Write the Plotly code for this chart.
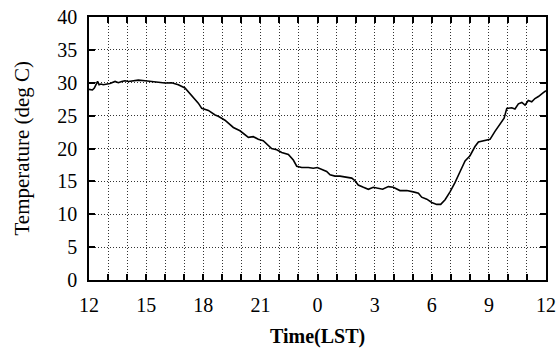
import plotly.graph_objects as go

# hours since 12 LST (0..24)
hours = [0, 0.18, 0.28, 0.37, 0.45, 0.53, 0.63, 0.75, 0.93, 1.10, 1.37, 1.54, 1.72, 1.89,
         2.07, 2.24, 2.59, 2.94, 3.29, 3.64, 3.99, 4.34, 4.69, 5.04, 5.22, 5.39, 5.74,
         5.92, 6.27, 6.62, 6.79, 7.14, 7.41, 7.58, 7.93, 8.19, 8.37, 8.63, 8.89, 9.15,
         9.33, 9.59, 9.86, 10.12, 10.47, 10.73, 10.91, 11.17, 11.52, 11.78, 11.99, 12.22,
         12.48, 12.66, 12.92, 13.18, 13.53, 13.80, 13.97, 14.14, 14.41, 14.67, 14.93,
         15.19, 15.42, 15.72, 15.98, 16.33, 16.69, 17.03, 17.30, 17.47, 17.74, 18.0,
         18.26, 18.47, 18.70, 18.96, 19.22, 19.49, 19.75, 20.01, 20.27, 20.45, 20.80,
         21.06, 21.32, 21.59, 21.80, 21.94, 22.20, 22.37, 22.55, 22.73, 22.90, 23.07,
         23.25, 23.42, 23.60, 23.86, 24.0]
temps = [29.0, 28.9, 29.2, 29.9, 30.2, 29.7, 29.8, 29.7, 29.8, 29.9, 30.2, 30.0, 30.2, 30.3,
         30.2, 30.3, 30.4, 30.3, 30.2, 30.0, 29.96, 30.0, 29.7, 29.2, 28.6, 27.9, 26.9,
         26.1, 25.8, 25.1, 24.9, 24.3, 23.6, 23.2, 22.7, 22.05, 21.7, 21.8, 21.4, 21.2,
         20.7, 20.0, 19.8, 19.4, 19.1, 18.25, 17.3, 17.1, 17.1, 17.0, 17.1, 16.8,
         16.5, 16.0, 15.8, 15.8, 15.6, 15.5, 15.1, 14.45, 14.1, 13.8, 14.1,
         13.9, 13.8, 14.2, 14.1, 13.6, 13.6, 13.4, 13.2, 12.6, 12.3, 11.8,
         11.5, 11.5, 12.2, 13.4, 14.8, 16.5, 18.1, 18.9, 20.3, 21.0, 21.2,
         21.4, 22.6, 23.7, 24.6, 26.1, 26.2, 26.0, 26.8, 27.0, 26.6, 27.3,
         27.1, 27.6, 27.9, 28.5, 28.8]

x_tickvals = list(range(0, 25))
x_labels = ["12", "15", "18", "21", "0", "3", "6", "9", "12"]
x_ticktext = [x_labels[v // 3] if v % 3 == 0 else "" for v in x_tickvals]
y_tickvals = [0, 5, 10, 15, 20, 25, 30, 35, 40]

FONT = "'Liberation Serif', 'Times New Roman', 'DejaVu Serif', serif"
tickfont = dict(family=FONT, size=20, color="black")

fig = go.Figure()
fig.add_trace(go.Scatter(x=hours, y=temps, mode="lines",
                         line=dict(color="black", width=1.6), showlegend=False))

fig.update_layout(
    width=557, height=354,
    margin=dict(l=89, r=11, t=17, b=74, autoexpand=False),
    paper_bgcolor="white", plot_bgcolor="white",
    font=dict(family=FONT, size=20, color="black"),
    xaxis=dict(range=[0, 24], tickvals=x_tickvals, ticktext=x_ticktext,
               tickfont=tickfont,
               ticks="inside", ticklen=6, tickwidth=1.5, tickcolor="black",
               showline=True, linecolor="black", linewidth=1.6, mirror="ticks",
               showgrid=True, gridcolor="#333", griddash="1px,2px", gridwidth=1,
               zeroline=False, ticklabelstandoff=6, automargin=False),
    yaxis=dict(range=[0, 40], tickvals=y_tickvals, tickfont=tickfont,
               ticks="inside", ticklen=6, tickwidth=1.5, tickcolor="black",
               showline=True, linecolor="black", linewidth=1.6, mirror="ticks",
               showgrid=True, gridcolor="#333", griddash="1px,2px", gridwidth=1,
               zeroline=False, ticklabelstandoff=6, automargin=False),
    annotations=[
        dict(text="<b>Time(LST)</b>", xref="paper", yref="paper", x=0.5, y=0,
             xanchor="center", yanchor="middle", yshift=-56, showarrow=False,
             font=dict(family=FONT, size=20, color="black")),
        dict(text="Temperature (deg C)", xref="paper", yref="paper", x=0, y=0.5,
             xanchor="center", yanchor="middle", xshift=-68, textangle=-90,
             showarrow=False, font=dict(family=FONT, size=21, color="black")),
    ],
)

fig.write_html("out.html")
